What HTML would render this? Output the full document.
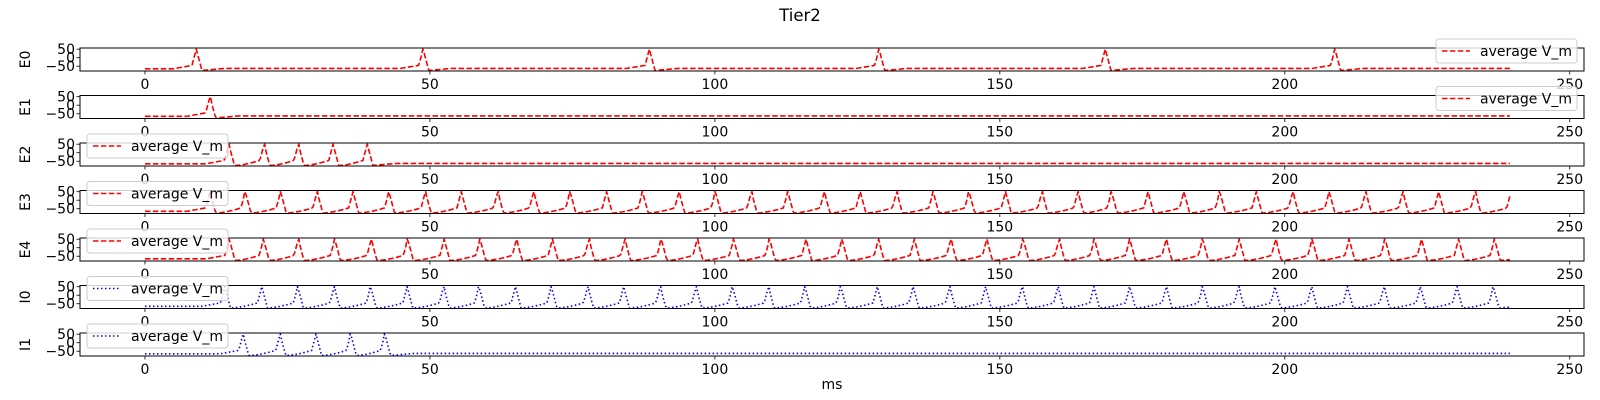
<!DOCTYPE html>
<html><head><meta charset="utf-8"><style>
body{margin:0;background:#fff;}
svg{display:block;font-family:"DejaVu Sans","Liberation Sans",sans-serif;}
</style></head><body>
<svg id="fig" width="1600" height="400" viewBox="0 0 1600 400">
<text x="800" y="21" font-size="16.5" text-anchor="middle">Tier2</text>
<text x="832" y="389" font-size="14" text-anchor="middle">ms</text>
</svg>
<script>
// ---- data ----
const panelNames = ["E0","E1","E2","E3","E4","I0","I1"];
const spikesE0 = [9, 48.8, 88.5, 128.8, 168.5, 208.8];
const spikesE1 = [11.4];
const spikesE2 = [14.7, 20.9, 26.9, 33.0, 39.0];
const spikesE3 = [11.4, 17.6, 23.8, 30.2, 36.5, 42.8, 49.2, 55.5, 61.9, 68.2, 74.6, 81.0, 87.3, 93.7, 100.1, 106.4, 112.8, 119.2, 125.5, 131.9, 138.3, 144.6, 151.0, 157.4, 163.7, 169.6, 176.0, 182.3, 188.6, 195.0, 201.4, 207.8, 214.2, 220.7, 227.0, 233.4, 239.7];
const spikesE4 = [14.8, 20.8, 26.9, 33.3, 39.7, 46.1, 52.5, 58.8, 65.2, 71.5, 77.9, 84.2, 90.6, 96.9, 103.3, 109.6, 116.0, 122.3, 128.7, 135.0, 141.4, 147.7, 154.1, 160.4, 166.6, 172.8, 179.2, 185.6, 192.0, 198.4, 204.8, 211.3, 217.6, 224.0, 230.5, 236.8];
const spikesI0 = [14.0, 20.5, 26.8, 33.2, 39.6, 46.0, 52.4, 58.6, 65.0, 71.3, 77.7, 84.0, 90.4, 96.7, 103.1, 109.4, 115.8, 122.1, 128.5, 134.8, 141.2, 147.5, 153.9, 160.2, 166.5, 172.8, 179.2, 185.6, 191.9, 198.3, 204.7, 211.0, 217.4, 223.8, 230.2, 236.6];
const spikesI1 = [17.2, 23.7, 30.0, 36.1, 42.1];
const xTicks = [0, 50, 100, 150, 200, 250];
const yTicks = [50, 0, -50];
const tEnd = 239.5;
const legendPos = ["right","right","left","left","left","left","left"];
// ---- layout ----
const axL = 80, axR = 1584, axH = 23;
const axTops = [48, 95.5, 143, 190.5, 238, 285.5, 333];
const xMin = -11.4, xMax = 252.5, yMin = -78, yMax = 57;
const NS = "http://www.w3.org/2000/svg";
const svg = document.getElementById("fig");
function mk(tag, attrs, parent){const e=document.createElementNS(NS,tag);for(const k in attrs)e.setAttribute(k,attrs[k]);(parent||svg).appendChild(e);return e;}
function xs(t){return axL + (t - xMin) / (xMax - xMin) * (axR - axL);}
function ys(v, top){return top + axH - (v - yMin) / (yMax - yMin) * axH;}
function volt(t, S){
  for(const s of S){ if(Math.abs(t-s)<=0.13) return 50; }
  let p=null,n=null;
  for(const s of S){ if(s<=t) p=s; else if(n===null) n=s; }
  if(n!==null && n-t<=0.75){ return 50 - (n-t)/0.75*95; }
  if(p!==null && t-p<=1.0){ return 50 - (t-p)/1.0*125; }
  if(p===null){ if(n!==null && n-t<4) return -65 + (4-(n-t))/3.25*20; return -65; }
  const gap = (n===null?1e9:n) - p;
  if(gap<12){
    const f=(t-p-1)/(gap-1.75);
    return -75 + Math.pow(f,1.6)*30;
  }
  if(t-p<5) return -75 + (t-p-1)/4*12;
  if(n!==null && n-t<4) return -63 + (4-(n-t))/3.25*18;
  return -63;
}
const allSpikes = [spikesE0, spikesE1, spikesE2, spikesE3, spikesE4, spikesI0, spikesI1];
panelNames.forEach((nm, i) => {
  const top = axTops[i];
  const g = mk("g", {});
  
  
  const isI = nm[0] === "I";
  const col = isI ? "#0000ff" : "#ff0000";
  let d = "";
  for(let t=0; t<=tEnd+1e-6; t+=0.25){
    const v = Math.max(yMin+2, Math.min(53, volt(t, allSpikes[i])));
    d += (t===0?"M":"L") + xs(t).toFixed(2) + "," + ys(v, top).toFixed(2);
  }
  const clip = mk("clipPath", {id:"c"+i}, g);
  mk("rect", {x:axL, y:top-1, width:axR-axL, height:axH+1}, clip);
  const line = mk("path", {d:d, fill:"none", stroke:col, "stroke-width":1.6, "stroke-linejoin":"round", "stroke-dasharray": isI ? "1.5,2.5" : "5.5,2.4", "clip-path":"url(#c"+i+")"}, g);
  
  
  const fr = mk("rect", {x:axL, y:top, width:axR-axL, height:axH, fill:"none", stroke:"#000", "stroke-width":1}, g);
  
  
  xTicks.forEach(tk => {
    const x = xs(tk);
    mk("line", {x1:x, x2:x, y1:top+axH, y2:top+axH+3.5, stroke:"#000", "stroke-width":0.8}, g);
    const tl = mk("text", {x:x, y:top+axH+18, "font-size":14, "text-anchor":"middle"}, g);
    tl.textContent = String(tk);
    
    
  });
  yTicks.forEach(tk => {
    const y = ys(tk, top);
    mk("line", {x1:axL-3.5, x2:axL, y1:y, y2:y, stroke:"#000", "stroke-width":0.8}, g);
    const tl = mk("text", {x:axL-5, y:y+5, "font-size":14, "text-anchor":"end"}, g);
    tl.textContent = tk < 0 ? "\u2212" + Math.abs(tk) : String(tk);
    
    
  });
  const yl = mk("text", {x:0, y:0, "font-size":14, "text-anchor":"middle", transform:"translate(30,"+(top+axH/2)+") rotate(-90)"}, g);
  yl.textContent = nm;
  
  
  const lx = legendPos[i] === "right" ? 1436 : 87;
  const ly = top - 9;
  const lg = mk("g", {}, g);
  
  
  mk("rect", {x:lx, y:ly, width:141, height:24, rx:3, fill:"#fff", "fill-opacity":0.8, stroke:"#cccccc", "stroke-width":1}, lg);
  mk("line", {x1:lx+6, x2:lx+34, y1:ly+12, y2:ly+12, stroke:col, "stroke-width":1.6, "stroke-dasharray": isI ? "1.5,2.5" : "5.5,2.4"}, lg);
  const lt = mk("text", {x:lx+44, y:ly+17, "font-size":14}, lg);
  lt.textContent = "average V_m";
  
  
});
</script>
</body></html>
